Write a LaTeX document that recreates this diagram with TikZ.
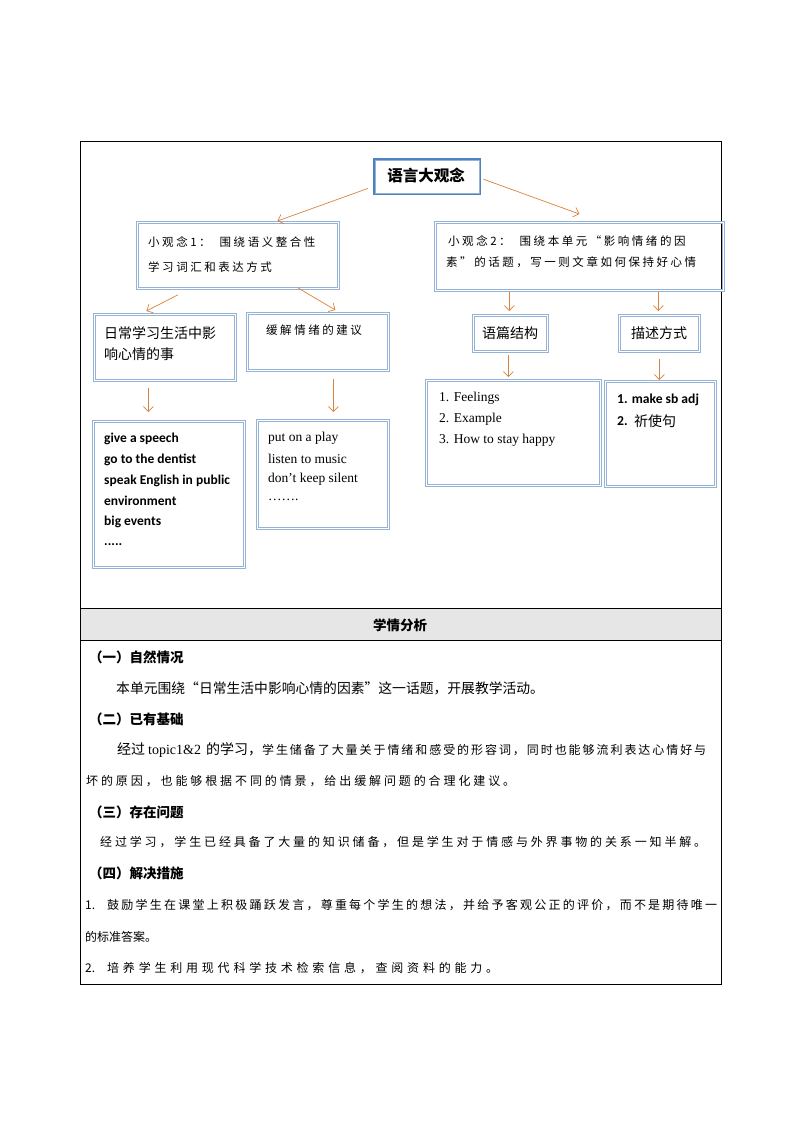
\documentclass[tikz,border=0pt]{standalone}
\usepackage{fontspec}
\setmainfont{Liberation Serif}
\newfontfamily\cjk{Noto Sans CJK SC}
\newfontfamily\cjks{Noto Sans CJK SC}[LetterSpace=22]
\newfontfamily\calfont{Carlito}
\usetikzlibrary{arrows.meta}
\ExplSyntaxOn
\NewDocumentCommand \spreadline { m m m }
  { \makebox [ #1 ] [ s ] { #2 \tl_map_inline:nn { #3 } { ##1 \hfil } \unskip } }
\ExplSyntaxOff
\definecolor{bxblue}{HTML}{95B3D7}
\definecolor{mainblue}{HTML}{4F81BD}
\definecolor{arr}{HTML}{D9823B}
\definecolor{rowgrey}{HTML}{E6E6E6}
\tikzset{
  bx/.style={draw=bxblue, double=white, line width=0.8pt, double distance=1.4pt, inner sep=0pt, anchor=north west},
  mainbx/.style={draw=mainblue, line width=2.4pt, inner sep=0pt, fill=white, anchor=north west},
  arrow/.style={draw=arr, line width=0.7pt, -{Straight Barb[length=5pt,width=10pt]}},
  tx/.style={inner sep=0pt, anchor=west},
  fs/.style={font=\cjks\fontsize{11.5}{14}\selectfont},
  fy/.style={font=\cjk\fontsize{14}{16}\selectfont},
  fb/.style={font=\calfont\bfseries\fontsize{13.5}{15}\selectfont},
  ft/.style={font=\rmfamily\fontsize{13.5}{15}\selectfont},
  body/.style={font=\cjk\fontsize{13.8}{16}\selectfont},
  bodys/.style={font=\cjk\fontsize{12}{16}\selectfont},
  head/.style={font=\cjk\bfseries\fontsize{13.5}{16}\selectfont},
}
\begin{document}
\begin{tikzpicture}[x=1pt,y=-1pt]
\useasboundingbox (0,0) rectangle (794,1123);
% table
\fill[rowgrey] (80,608) rectangle (721,640);
\draw[line width=0.8pt] (80,141) rectangle (721,984);
\draw[line width=0.8pt] (80,608) -- (721,608);
\draw[line width=0.8pt] (80,640) -- (721,640);
\node[tx, anchor=center, head] (hd) at (400,625) {学情分析};

% boxes
\node[mainbx, minimum width=106pt, minimum height=35pt] (main) at (373,158) {};
\draw[bxblue, line width=0.6pt] ([xshift=2.5pt,yshift=-2.5pt]main.north west) rectangle ([xshift=-2.5pt,yshift=2.5pt]main.south east);
\node[tx, anchor=center, font=\cjk\bfseries\fontsize{15.5}{17}\selectfont] (maint) at (426,175.5) {语言大观念};

\node[bx, minimum width=201pt, minimum height=66pt] (k1) at (137,222) {};
\node[bx, minimum width=288pt, minimum height=68pt] (k2) at (435,222) {};
\node[bx, minimum width=141pt, minimum height=66pt] (r1) at (94,314) {};
\node[bx, minimum width=141pt, minimum height=57pt] (r2) at (247,313) {};
\node[bx, minimum width=74pt, minimum height=36pt] (r3) at (473,315) {};
\node[bx, minimum width=80pt, minimum height=36pt] (r4) at (619,315) {};
\node[bx, minimum width=151pt, minimum height=146pt] (l1) at (93,421) {};
\node[bx, minimum width=131pt, minimum height=108pt] (l2) at (257,420) {};
\node[bx, minimum width=174pt, minimum height=105pt] (l3) at (426,380) {};
\node[bx, minimum width=110pt, minimum height=105pt] (l4) at (605,381) {};

% box texts
\node[tx, fs] (k1a) at (148,242) {小观念1：\hspace{9pt}围绕语义整合性};
\node[tx, fs] (k1b) at (148,267) {学习词汇和表达方式};
\node[tx, fs] (k2a) at (448,241) {小观念2：\hspace{9pt}围绕本单元“影响情绪的因};
\node[tx, fs] (k2b) at (446,262) {素”的话题，写一则文章如何保持好心情};
\node[tx, fy] (r1a) at (104,333) {日常学习生活中影};
\node[tx, fy] (r1b) at (104,354) {响心情的事};
\node[tx, fs] (r2a) at (266,330) {缓解情绪的建议};
\node[tx, fy, anchor=center] (r3a) at (510,333) {语篇结构};
\node[tx, fy, anchor=center] (r4a) at (659,333) {描述方式};

\node[tx, fb] (l1a) at (104,439) {give a speech};
\node[tx, fb] (l1b) at (104,460) {go to the dentist};
\node[tx, fb] (l1c) at (104,481) {speak English in public};
\node[tx, fb] (l1d) at (104,501) {environment};
\node[tx, fb] (l1e) at (104,522) {big events};
\node[tx, fb] (l1f) at (104,545) {.....};

\node[tx, ft] (l2a) at (268,438) {put on a play};
\node[tx, ft] (l2b) at (268,459) {listen to music};
\node[tx, ft] (l2c) at (268,479) {don’t keep silent};
\node[tx, ft] (l2d) at (268,500) {…….};

\node[tx, ft] (l3a) at (439,398) {1. Feelings};
\node[tx, ft] (l3b) at (439,419) {2. Example};
\node[tx, ft] (l3c) at (439,440) {3. How to stay happy};

\node[tx, fb, font=\calfont\bfseries\fontsize{13.6}{15}\selectfont] (l4a) at (617,400) {1. make sb adj};
\node[tx, fb, font=\calfont\bfseries\fontsize{13.6}{15}\selectfont] (l4b) at (617,421) {2.};
\node[tx, fy] (l4c) at (634,421) {祈使句};

% arrows
\draw[arrow] ([xshift=-5pt,yshift=7pt]main.south west) -- ([xshift=39.5pt,yshift=1pt]k1.north);
\draw[arrow] ([xshift=2pt,yshift=-2.5pt]main.east) -- ([yshift=8pt]k2.north);
\draw[arrow] ([xshift=41pt,yshift=-6pt]k1.south west) -- ([xshift=-18.5pt,yshift=3pt]r1.north);
\draw[arrow] ([xshift=-41pt,yshift=1pt]k1.south east) -- ([xshift=17.5pt,yshift=3pt]r2.north);
\draw[arrow] ([xshift=-70pt,yshift=-1pt]k2.south) -- ([xshift=-1pt,yshift=4pt]r3.north);
\draw[arrow] ([xshift=79pt,yshift=-1pt]k2.south) -- ([xshift=-1pt,yshift=4pt]r4.north);
\draw[arrow] ([xshift=-16.5pt,yshift=-7pt]r1.south) -- ([xshift=-20.5pt,yshift=9pt]l1.north);
\draw[arrow] ([xshift=15.5pt,yshift=-8pt]r2.south) -- ([xshift=10.5pt,yshift=8pt]l2.north);
\draw[arrow] ([xshift=-2pt,yshift=-3pt]r3.south) -- ([xshift=-5pt,yshift=3pt]l3.north);
\draw[arrow] ([yshift=-7pt]r4.south) -- ([xshift=-1pt,yshift=1pt]l4.north);

% lower section
\node[tx, head] (h1) at (89,657) {（一）自然情况};
\node[tx, body] (p1) at (116,688) {本单元围绕“日常生活中影响心情的因素”这一话题，开展教学活动。};
\node[tx, head] (h2) at (89,719) {（二）已有基础};
\node[tx, bodys] (p2) at (117,750) {\spreadline{589pt}{{\cjk\fontsize{14}{16}\selectfont 经过}\hspace{3pt}{\rmfamily\fontsize{14}{16}\selectfont topic1\&2}\hspace{5pt}{\cjk\fontsize{14}{16}\selectfont 的学习，}}{学生储备了大量关于情绪和感受的形容词，同时也能够流利表达心情好与}};
\node[tx, bodys] (p3) at (86,781) {\spreadline{429pt}{}{坏的原因，也能够根据不同的情景，给出缓解问题的合理化建议。}};
\node[tx, head] (h3) at (89,812) {（三）存在问题};
\node[tx, bodys] (p4) at (100,842) {\spreadline{606pt}{}{经过学习，学生已经具备了大量的知识储备，但是学生对于情感与外界事物的关系一知半解。}};
\node[tx, head] (h4) at (89,873) {（四）解决措施};
\node[tx, bodys] (p5) at (85,905) {\spreadline{632pt}{1.\hspace{12pt}}{鼓励学生在课堂上积极踊跃发言，尊重每个学生的想法，并给予客观公正的评价，而不是期待唯一}};
\node[tx, bodys] (p6) at (85,937) {的标准答案。};
\node[tx, bodys] (p7) at (85,968) {\spreadline{413pt}{2.\hspace{12pt}}{培养学生利用现代科学技术检索信息，查阅资料的能力。}};
\end{tikzpicture}
\end{document}
